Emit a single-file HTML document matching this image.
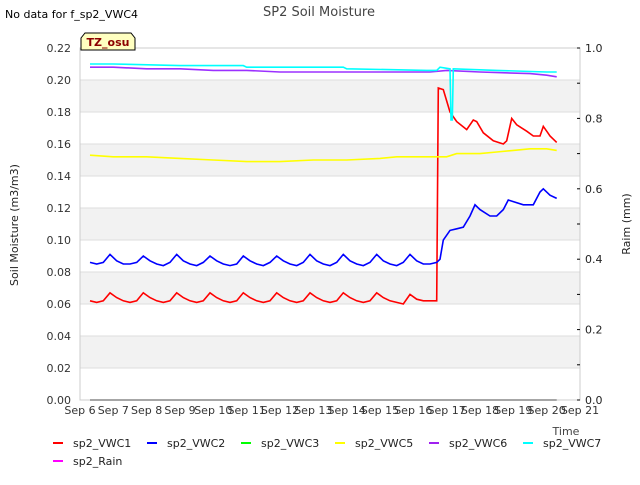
<!DOCTYPE html>
<html><head><meta charset="utf-8"><style>
body{margin:0;background:#fff;font-family:"Liberation Sans","DejaVu Sans",sans-serif;}
svg text{font-family:"DejaVu Sans","Liberation Sans",sans-serif;}
</style></head><body>
<svg id="chart" width="640" height="480" xmlns="http://www.w3.org/2000/svg">
<rect width="640" height="480" fill="#fff"/>
<g id="bands"></g><g id="grid"></g>
<rect x="80" y="48" width="500" height="352" fill="none" stroke="#ccc"/>
<g id="axes"></g><g id="series"></g>
<text x="5" y="18" font-size="11" fill="#000">No data for f_sp2_VWC4</text>
<text x="319" y="16" font-size="13" fill="#444" text-anchor="middle">SP2 Soil Moisture</text>
<g><path d="M81,50 L81,38 L85,33 L131,33 L135,38 L135,50 Z" fill="#ffffc0" stroke="#000"/><text x="108" y="46" font-size="11" font-weight="bold" fill="#8b0000" text-anchor="middle">TZ_osu</text></g>
<text transform="translate(18,225) rotate(-90)" font-size="11" fill="#222" text-anchor="middle">Soil Moisture (m3/m3)</text>
<text transform="translate(630,224) rotate(-90)" font-size="11" fill="#222" text-anchor="middle">Raim (mm)</text>
<text x="566" y="435" font-size="11" fill="#444" text-anchor="middle">Time</text>
<g id="legend"></g>
</svg>
<script>
const xTicks=["Sep 6","Sep 7","Sep 8","Sep 9","Sep 10","Sep 11","Sep 12","Sep 13","Sep 14","Sep 15","Sep 16","Sep 17","Sep 18","Sep 19","Sep 20","Sep 21"];
const yTicks=[0,0.02,0.04,0.06,0.08,0.10,0.12,0.14,0.16,0.18,0.20,0.22];
const y2Ticks=[0,0.2,0.4,0.6,0.8,1.0];
const oscT=[0.3,0.5,0.7,0.9,1.1,1.3,1.5,1.7,1.9,2.1,2.3,2.5,2.7,2.9,3.1,3.3,3.5,3.7,3.9,4.1,4.3,4.5,4.7,4.9,5.1,5.3,5.5,5.7,5.9,6.1,6.3,6.5,6.7,6.9,7.1,7.3,7.5,7.7,7.9,8.1,8.3,8.5,8.7,8.9,9.1,9.3,9.5,9.7,9.9,10.1,10.3,10.5,10.7];
const v1Early=[0.062,0.061,0.062,0.067,0.064,0.062,0.061,0.062,0.067,0.064,0.062,0.061,0.062,0.067,0.064,0.062,0.061,0.062,0.067,0.064,0.062,0.061,0.062,0.067,0.064,0.062,0.061,0.062,0.067,0.064,0.062,0.061,0.062,0.067,0.064,0.062,0.061,0.062,0.067,0.064,0.062,0.061,0.062,0.067,0.064,0.062,0.061,0.060,0.066,0.063,0.062,0.062,0.062];
const v2Early=[0.086,0.085,0.086,0.091,0.087,0.085,0.085,0.086,0.090,0.087,0.085,0.084,0.086,0.091,0.087,0.085,0.084,0.086,0.090,0.087,0.085,0.084,0.085,0.090,0.087,0.085,0.084,0.086,0.090,0.087,0.085,0.084,0.086,0.091,0.087,0.085,0.084,0.086,0.091,0.087,0.085,0.084,0.086,0.091,0.087,0.085,0.084,0.086,0.091,0.087,0.085,0.085,0.086];
const lateT1=[10.75,10.9,11.1,11.3,11.6,11.8,11.9,12.1,12.4,12.7,12.8,12.95,13.1,13.4,13.6,13.8,13.9,14.0,14.1,14.3];
const v1Late=[0.195,0.194,0.180,0.174,0.169,0.175,0.174,0.167,0.162,0.160,0.162,0.176,0.172,0.168,0.165,0.165,0.171,0.168,0.165,0.161];
const lateT2=[10.8,10.9,11.1,11.3,11.5,11.7,11.85,12.0,12.3,12.5,12.7,12.85,13.0,13.3,13.6,13.8,13.9,14.1,14.3];
const v2Late=[0.088,0.100,0.106,0.107,0.108,0.115,0.122,0.119,0.115,0.115,0.119,0.125,0.124,0.122,0.122,0.130,0.132,0.128,0.126];
const t5=[0.3,1,2,3,4,5,6,7,8,9,9.5,10,10.5,11,11.3,12,12.5,13,13.5,14,14.3];
const v5=[0.153,0.152,0.152,0.151,0.150,0.149,0.149,0.150,0.150,0.151,0.152,0.152,0.152,0.152,0.154,0.154,0.155,0.156,0.157,0.157,0.156];
const t6=[0.3,1,2,3,4,5,6,8,10,10.5,11,12,13.5,14,14.3];
const v6=[0.208,0.208,0.207,0.207,0.206,0.206,0.205,0.205,0.205,0.205,0.206,0.205,0.204,0.203,0.202];
const t7=[0.3,1,3,4.9,5,7.9,8,10.4,10.7,10.8,11.1,11.13,11.17,11.2,12.5,14,14.3];
const v7=[0.210,0.210,0.209,0.209,0.208,0.208,0.207,0.206,0.206,0.208,0.207,0.175,0.175,0.207,0.206,0.205,0.205];
const t3=[0.3,14.3];const v3=[0,0];
const NS="http://www.w3.org/2000/svg";
const X=d=>80+d*500/15, Y=v=>400-v*352/0.22, Y2=v=>400-v*352;
function mk(tag,attrs,parent){const e=document.createElementNS(NS,tag);for(const k in attrs)e.setAttribute(k,attrs[k]);document.getElementById(parent).appendChild(e);return e;}
for(let i=0;i<yTicks.length-1;i++){ if(i%2===1){const r=mk('rect',{x:80,y:Y(yTicks[i+1]),width:500,height:Y(yTicks[i])-Y(yTicks[i+1]),fill:'#f2f2f2'},'bands');

}}
yTicks.forEach(v=>{const l=mk('line',{x1:80,x2:580,y1:Y(v),y2:Y(v),stroke:'#ddd'},'grid');


const t=mk('text',{x:71,y:Y(v)+4,'font-size':11,fill:'#333','text-anchor':'end'},'axes');t.textContent=v.toFixed(2);

});
y2Ticks.forEach(v=>{const t=mk('text',{x:585,y:Y2(v)+4,'font-size':11,fill:'#222'},'axes');t.textContent=v.toFixed(1);

});
for(let i=0;i<=10;i++){const v=i*0.1;const l=mk('line',{x1:577,x2:580,y1:Y2(v),y2:Y2(v),stroke:'#000'},'axes');

}
xTicks.forEach((s,i)=>{const t=mk('text',{x:X(i),y:414,'font-size':11,fill:'#333','text-anchor':'middle'},'axes');t.textContent=s;

});
function line(ts,vs,color,name){const p=mk('polyline',{points:ts.map((t,i)=>X(t).toFixed(1)+','+Y(vs[i]).toFixed(1)).join(' '),fill:'none',stroke:color,'stroke-width':1.6},'series');

}
line([...oscT,...lateT1],[...v1Early,...v1Late],'#ff0000','series-vwc1');
line([...oscT,...lateT2],[...v2Early,...v2Late],'#0000ff','series-vwc2');
line(t3,v3,'#888888','series-vwc3');
line(t5,v5,'#ffff00','series-vwc5');
line(t6,v6,'#9b30ff','series-vwc6');
line(t7,v7,'#00ffff','series-vwc7');
const legNames=["sp2_VWC1","sp2_VWC2","sp2_VWC3","sp2_VWC5","sp2_VWC6","sp2_VWC7","sp2_Rain"];
const legColors=["#ff0000","#0000ff","#00ff00","#ffff00","#a020f0","#00ffff","#ff00ff"];
legNames.forEach((n,i)=>{const x=53+(i%6)*94,y=i<6?443:461;
const l=mk('line',{x1:x,x2:x+10,y1:y,y2:y,stroke:legColors[i],'stroke-width':2},'legend');


const t=mk('text',{x:x+20,y:y+4,'font-size':11,fill:'#222'},'legend');t.textContent=n;

});
</script>
</body></html>
